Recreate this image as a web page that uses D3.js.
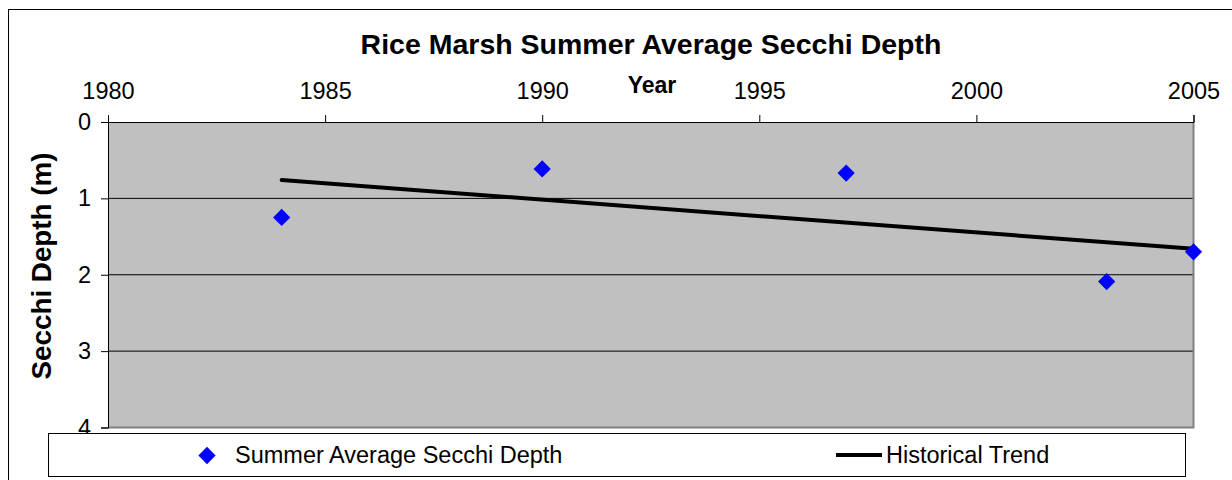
<!DOCTYPE html>
<meta charset="utf-8">
<style>
body { margin: 0; background: #fff; }
text { font-family: "Liberation Sans", Arial, sans-serif; fill: #000; }
.axis path, .axis line { stroke: #000; }
</style>
<svg width="1232" height="480"></svg>
<script src="https://d3js.org/d3.v7.min.js"></script>
<script>

// data
var years = [1984, 1990, 1997, 2003, 2005];
var depths = [1.25, 0.615, 0.668, 2.09, 1.70];
var trendYears = [1984, 2005];
var trendDepths = [0.76, 1.66];
var xTicks = [1980, 1985, 1990, 1995, 2000, 2005];
var yTicks = [0, 1, 2, 3, 4];

var svg = d3.select("svg"),
    margin = {top: 122, left: 108},
    width = 1193.5 - 108,
    height = 427.5 - 122;

// outer chart frame (runs off the right and bottom edge)
svg.append("rect")
    .attr("x", 8.5).attr("y", 9.5)
    .attr("width", 1300).attr("height", 600)
    .attr("fill", "#fff").attr("stroke", "#000").attr("stroke-width", 1);

var x = d3.scaleLinear().domain([1980, 2005]).range([0, width]),
    y = d3.scaleLinear().domain([0, 4]).range([0, height]);

var g = svg.append("g")
    .attr("transform", "translate(" + margin.left + "," + margin.top + ")");

g.append("rect")
    .attr("width", width).attr("height", height)
    .attr("fill", "#c0c0c0");

// gridlines
g.selectAll(".grid")
  .data(yTicks.slice(1, -1))
  .enter().append("line")
    .attr("x1", 0).attr("x2", width)
    .attr("y1", function(d) { return y(d); })
    .attr("y2", function(d) { return y(d); })
    .attr("stroke", "#000").attr("stroke-width", 1);

// plot border right/bottom
g.append("path")
    .attr("d", "M" + width + ",0V" + height + "H0")
    .attr("fill", "none").attr("stroke", "#808080").attr("stroke-width", 2);

// axes
var xAxis = g.append("g")
    .attr("class", "axis")
    .call(d3.axisTop(x).tickValues(xTicks).tickFormat(d3.format("d")).tickSizeOuter(0).tickSize(7).tickPadding(16));
xAxis.selectAll("text").style("font-size", "23.5px");

var yAxis = g.append("g")
    .attr("class", "axis")
    .call(d3.axisLeft(y).tickValues(yTicks).tickFormat(d3.format("d")).tickSizeOuter(0).tickSize(7).tickPadding(10));
yAxis.selectAll("text").style("font-size", "23.5px");

// trend line
var line = d3.line()
    .x(function(d) { return x(d[0]); })
    .y(function(d) { return y(d[1]); });

g.append("path")
    .datum(d3.zip(trendYears, trendDepths))
    .attr("d", line)
    .attr("fill", "none").attr("stroke", "#000")
    .attr("stroke-width", 4).attr("stroke-linecap", "round");

// points
var diamond = d3.symbol().type(d3.symbolDiamond2).size(190);
g.selectAll(".pt")
  .data(d3.zip(years, depths))
  .enter().append("path")
    .attr("d", diamond)
    .attr("transform", function(d) { return "translate(" + x(d[0]) + "," + y(d[1]) + ")"; })
    .attr("fill", "#0000ff");

// titles
svg.append("text")
    .attr("x", 651).attr("y", 54)
    .attr("text-anchor", "middle")
    .style("font-size", "28.5px").style("font-weight", "bold")
    .text("Rice Marsh Summer Average Secchi Depth");

svg.append("text")
    .attr("x", 652).attr("y", 93)
    .attr("text-anchor", "middle")
    .style("font-size", "23px").style("font-weight", "bold")
    .text("Year");

svg.append("text")
    .attr("transform", "translate(51,266) rotate(-90)")
    .attr("text-anchor", "middle")
    .style("font-size", "27.8px").style("font-weight", "bold")
    .text("Secchi Depth (m)");

// legend
var lg = svg.append("g");
lg.append("rect")
    .attr("x", 48.5).attr("y", 433.5).attr("width", 1137).attr("height", 43)
    .attr("fill", "#fff").attr("stroke", "#000");

lg.append("path")
    .attr("d", diamond)
    .attr("transform", "translate(207,455.5)")
    .attr("fill", "#0000ff");
lg.append("text")
    .attr("x", 235).attr("y", 463)
    .style("font-size", "23.5px")
    .text("Summer Average Secchi Depth");

lg.append("line")
    .attr("x1", 836).attr("x2", 882).attr("y1", 455).attr("y2", 455)
    .attr("stroke", "#000").attr("stroke-width", 4);
lg.append("text")
    .attr("x", 886).attr("y", 463)
    .style("font-size", "23.5px")
    .text("Historical Trend");

</script>
